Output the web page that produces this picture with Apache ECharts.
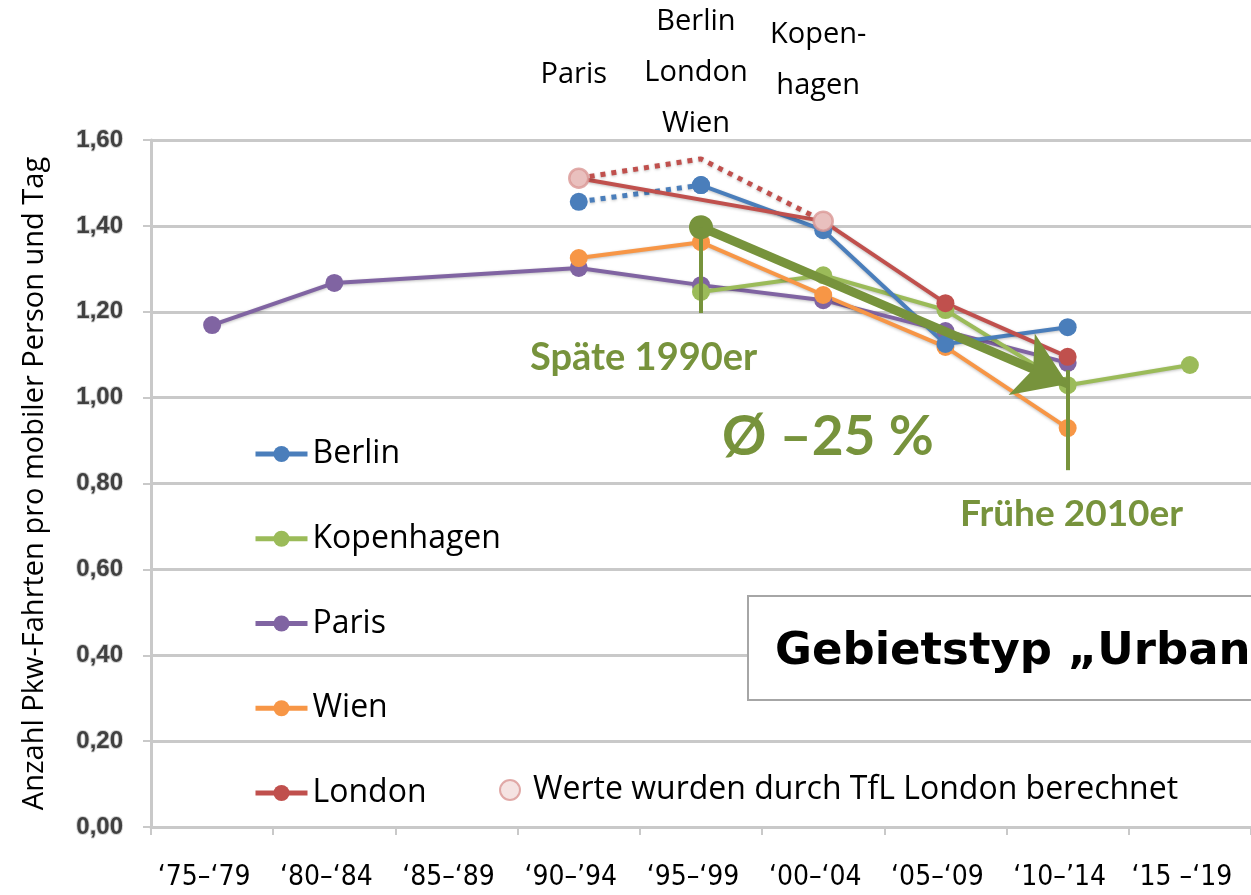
<!DOCTYPE html>
<html lang="de" style="height: 100%">
<head>
  <meta charset="utf-8">
</head>
<body style="height: 100%; margin: 0; background: #fff">
  <div id="container" style="width: 1251px; height: 895px"></div>

  <script type="text/javascript" src="https://cdn.jsdelivr.net/npm/echarts@6/dist/echarts.min.js"></script>
  <script type="text/javascript">
    // Zeiträume (x-Achse)
    var categories = ['‘75–‘79', '‘80–‘84', '‘85–‘89', '‘90–’94', '‘95–‘99', '‘00–‘04', '‘05–‘09', '‘10–’14', '‘15 –‘19'];

    // Pkw-Fahrten pro mobiler Person und Tag
    var berlin      = [null, null, null, null, 1.495, 1.39, 1.125, 1.164, null];
    var berlinEarly = [null, null, null, 1.456, 1.495, null, null, null, null];
    var kopenhagen  = [null, null, null, null, 1.246, 1.285, 1.204, 1.029, 1.076];
    var paris       = [1.169, 1.267, null, 1.302, 1.262, 1.227, 1.155, 1.081, null];
    var wien        = [null, null, null, 1.325, 1.362, 1.239, 1.118, 0.929, null];
    var london      = [null, null, null, 1.511, null, 1.411, 1.220, 1.095, null];
    var londonTfl   = [null, null, null, 1.511, 1.556, 1.411, null, null, null];
    var tflPoints   = [null, null, null, 1.511, null, 1.411, null, null, null];

    // Trendpfeil: Späte 1990er -> Frühe 2010er
    var trendFrom = [4, 1.397];
    var trendTo   = [7, 1.032];
    var markStart = [[4, 1.397], [4, 1.197]];
    var markEnd   = [[7, 1.064], [7, 0.831]];

    // Beschriftungen über den Spalten
    var topLabels = [
      { idx: 3, text: 'Paris', y: 75 },
      { idx: 4, text: 'Berlin\nLondon\nWien', y: 73 },
      { idx: 5, text: 'Kopen-\nhagen', y: 60 }
    ];

    var TFL = 'Werte wurden durch TfL London berechnet';
    var GREEN = '#77933c';
    var shadow = { shadowColor: 'rgba(0,0,0,0.25)', shadowBlur: 3, shadowOffsetY: 1 };

    var dom = document.getElementById('container');
    var myChart = echarts.init(dom, null, { renderer: 'canvas' });

    function lineSeries(name, data, color, extra) {
      var s = {
        name: name,
        type: 'line',
        data: data,
        symbol: 'circle',
        symbolSize: 18,
        connectNulls: true,
        itemStyle: { color: color },
        lineStyle: Object.assign({ color: color, width: 4 }, shadow)
      };
      return Object.assign(s, extra || {});
    }

    var option = {
      animation: false,
      backgroundColor: '#fff',
      grid: { left: 151, top: 140, width: 1104, bottom: 68 },
      legend: [{
        orient: 'vertical',
        left: 248,
        top: 431,
        itemWidth: 52,
        itemHeight: 20,
        itemGap: 48.75,
        data: ['Berlin', 'Kopenhagen', 'Paris', 'Wien', 'London'],
        lineStyle: { width: 5 },
        textStyle: { fontFamily: 'Open Sans', fontSize: 32, color: '#000', lineHeight: 36 }
      }, {
        left: 494,
        top: 767,
        itemWidth: 20,
        itemHeight: 20,
        data: [TFL],
        textStyle: { fontFamily: 'Open Sans', fontSize: 32, color: '#000', lineHeight: 36, padding: [0, 0, 0, 8] }
      }],
      xAxis: {
        type: 'category',
        data: categories,
        boundaryGap: true,
        axisLine: { lineStyle: { color: '#c9c9c9', width: 3 } },
        axisTick: { show: true, length: 8, interval: 0, lineStyle: { color: '#c9c9c9', width: 2 } },
        axisLabel: {
          interval: 0,
          margin: 37,
          fontFamily: "'Liberation Sans Narrow', 'DejaVu Sans Condensed', sans-serif",
          fontSize: 28,
          color: '#000',
          padding: [0, 16, 0, 0]
        },
        splitLine: { show: false }
      },
      yAxis: {
        type: 'value',
        min: 0,
        max: 1.6,
        interval: 0.2,
        name: 'Anzahl Pkw-Fahrten pro mobiler Person und Tag',
        nameLocation: 'middle',
        nameGap: 102,
        nameTextStyle: { fontFamily: 'Open Sans', fontSize: 29, color: '#000' },
        axisLine: { show: true, lineStyle: { color: '#c9c9c9', width: 3 } },
        axisTick: { show: true, length: 8, lineStyle: { color: '#c9c9c9', width: 2 } },
        axisLabel: {
          margin: 28,
          fontFamily: 'Liberation Sans',
          fontWeight: 'bold',
          fontSize: 24,
          color: '#404040',
          textBorderColor: 'rgba(0,0,0,0.18)',
          textBorderWidth: 2,
          formatter: function (v) { return v.toFixed(2).replace('.', ','); }
        },
        splitLine: { lineStyle: { color: '#c9c9c9', width: 3 } }
      },
      series: [
        lineSeries('Paris', paris, '#8064a2'),
        lineSeries('Kopenhagen', kopenhagen, '#9bbb59'),
        lineSeries('Wien', wien, '#f79646'),
        lineSeries('Berlin', berlin, '#4a7ebb'),
        lineSeries('Berlin (früher Wert)', berlinEarly, '#4a7ebb', {
          lineStyle: Object.assign({ color: '#4a7ebb', width: 5, type: [5, 6] }, shadow)
        }),
        lineSeries('London', london, '#c0504d'),
        lineSeries('London (TfL)', londonTfl, '#c0504d', {
          symbol: 'none',
          lineStyle: Object.assign({ color: '#c0504d', width: 5, type: [5, 6] }, shadow)
        }),
        {
          name: TFL,
          type: 'scatter',
          data: tflPoints,
          symbol: 'circle',
          symbolSize: 19,
          itemStyle: { color: '#f2dcdb', borderColor: '#d99694', borderWidth: 2.5 },
          z: 4
        },
        {
          name: 'Trend',
          type: 'line',
          data: [],
          z: 5,
          markLine: {
            silent: true,
            animation: false,
            label: { show: false },
            data: [
              [{ coord: trendFrom, symbol: 'circle', symbolSize: 24 },
               { coord: trendTo, symbol: 'arrow', symbolSize: 50 }],
              [{ coord: markStart[0], symbol: 'none' }, { coord: markStart[1], symbol: 'none', lineStyle: { width: 4 } }],
              [{ coord: markEnd[0], symbol: 'none' }, { coord: markEnd[1], symbol: 'none', lineStyle: { width: 4 } }]
            ],
            lineStyle: { color: GREEN, width: 9, type: 'solid', opacity: 1 },
            itemStyle: { color: GREEN }
          }
        }
      ]
    };

    myChart.setOption(option);

    // Texte über den Spalten und Hinweise
    var graphics = topLabels.map(function (t) {
      var x = myChart.convertToPixel({ xAxisIndex: 0 }, t.idx);
      return {
        type: 'text',
        x: x - 5,
        y: t.y,
        style: {
          text: t.text,
          fontFamily: 'Open Sans',
          fontSize: 29,
          lineHeight: 51,
          fill: '#000',
          align: 'center',
          verticalAlign: 'middle'
        }
      };
    });

    var greenText = function (text, x, y, size) {
      return {
        type: 'text', x: x, y: y, z: 10,
        style: {
          text: text, fontFamily: 'Lato', fontWeight: 'bold', fontSize: size,
          fill: GREEN, align: 'left', verticalAlign: 'middle'
        }
      };
    };
    graphics.push(greenText('Späte 1990er', 530, 358, 38));
    graphics.push(greenText('Ø –25 %', 722, 437, 55));
    graphics.push(greenText('Frühe 2010er', 960, 514, 37));

    graphics.push({
      type: 'group',
      x: 748, y: 596, z: 10,
      children: [{
        type: 'rect',
        shape: { x: 0, y: 0, width: 520, height: 104 },
        style: { fill: '#fff', stroke: '#a6a6a6', lineWidth: 2 }
      }, {
        type: 'text',
        x: 27, y: 56,
        style: {
          text: 'Gebietstyp „Urban', fontFamily: 'DejaVu Sans', fontWeight: 'bold', fontSize: 45,
          fill: '#000', align: 'left', verticalAlign: 'middle'
        }
      }]
    });

    myChart.setOption({ graphic: graphics });

    window.addEventListener('resize', myChart.resize);
  </script>
</body>
</html>
